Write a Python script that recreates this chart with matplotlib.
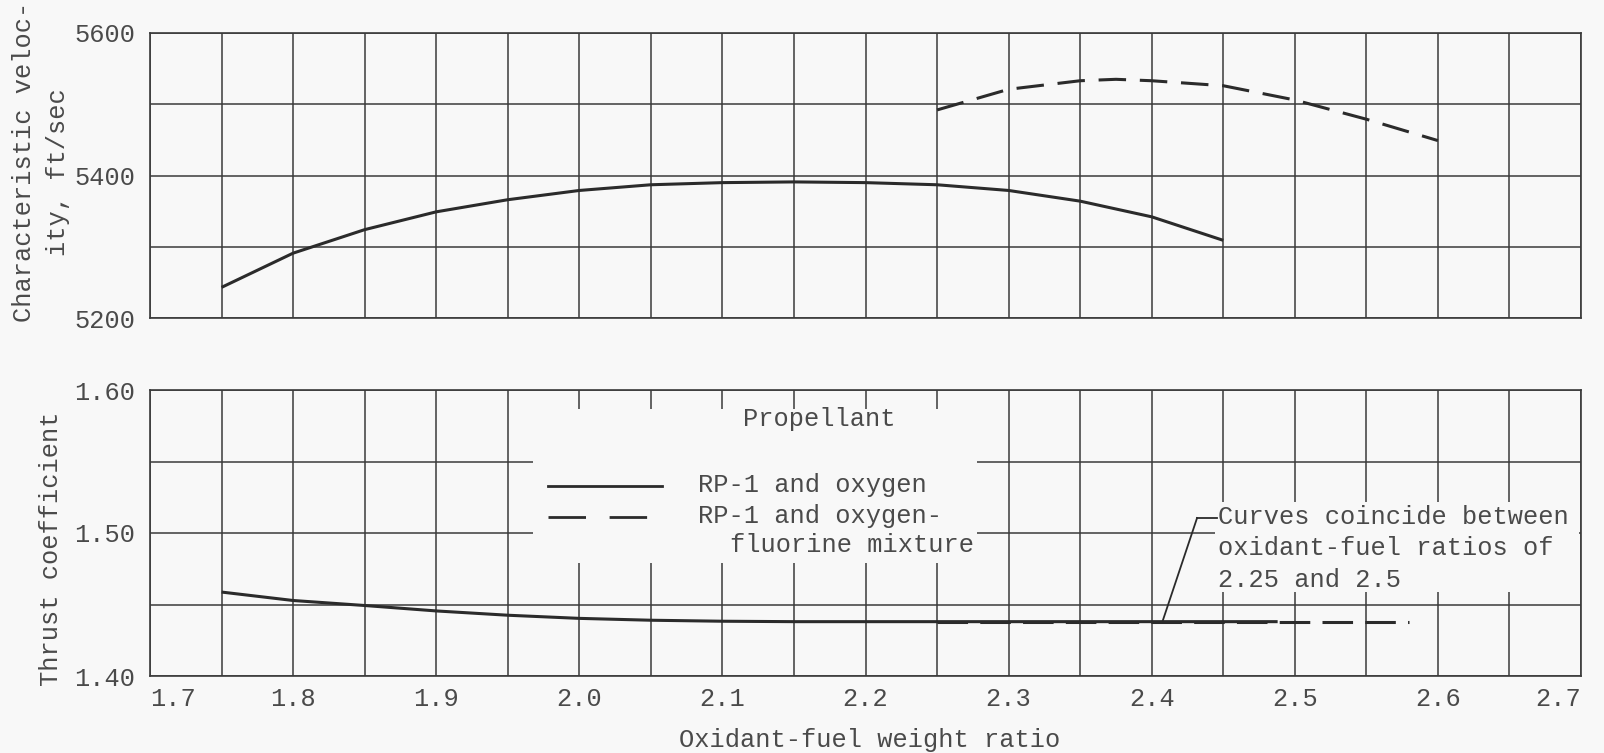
import matplotlib
matplotlib.use("Agg")
import matplotlib.pyplot as plt
from matplotlib.patches import Rectangle
from matplotlib.lines import Line2D
import numpy as np

# ---------------- data ----------------
x_top_solid = [1.75, 1.80, 1.85, 1.90, 1.95, 2.00, 2.05, 2.10, 2.15, 2.20,
               2.25, 2.30, 2.35, 2.40, 2.45]
cstar_solid = [5243, 5291, 5324, 5349, 5366, 5379, 5387, 5390, 5391, 5390,
               5387, 5379, 5364, 5342, 5309]

x_top_dash = [2.25, 2.30, 2.35, 2.375, 2.40, 2.45, 2.50, 2.55, 2.60]
cstar_dash = [5492, 5521, 5533, 5535, 5533, 5526, 5506, 5479, 5449]

x_bot_solid = [1.75, 1.80, 1.85, 1.90, 1.95, 2.00, 2.05, 2.10, 2.15, 2.20,
               2.25, 2.30, 2.35, 2.40, 2.45, 2.488]
cf_solid = [1.4587, 1.4528, 1.4493, 1.4455, 1.4425, 1.4403, 1.4390, 1.4383,
            1.4380, 1.4380, 1.4380, 1.4380, 1.4380, 1.4380, 1.4380, 1.4380]

x_bot_dash = [2.25, 2.30, 2.35, 2.40, 2.45, 2.50, 2.55, 2.58]
cf_dash = [1.4380, 1.4380, 1.4380, 1.4380, 1.4380, 1.4380, 1.4380, 1.4380]

x_ticks = [1.7, 1.8, 1.9, 2.0, 2.1, 2.2, 2.3, 2.4, 2.5, 2.6, 2.7]
x_tick_labels = ["1.7", "1.8", "1.9", "2.0", "2.1", "2.2", "2.3", "2.4", "2.5", "2.6", "2.7"]
top_yticks = [5200, 5400, 5600]
top_yminor = [5300, 5500]
bot_yticks = [1.40, 1.50, 1.60]
bot_yticklabels = ["1.40", "1.50", "1.60"]
bot_yminor = [1.45, 1.55]

legend_title = "Propellant"
series_labels = ["RP-1 and oxygen", "RP-1 and oxygen-", "fluorine mixture"]
note_lines = ["Curves coincide between", "oxidant-fuel ratios of", "2.25 and 2.5"]
note_point = (2.4075, 1.438)

# ---------------- style ----------------
BG = "#f8f8f8"
INK = "#2b2b2b"
TXT = "#4a4a4a"
GRID = "#3a3a3a"
FONT = ["Liberation Mono", "DejaVu Sans Mono"]
FS = 18.3
plt.rcParams["font.family"] = FONT
plt.rcParams["font.size"] = FS

fig = plt.figure(figsize=(16.04, 7.53), dpi=100, facecolor=BG)
ax1 = fig.add_axes([150/1604, 1 - 318/753, 1431/1604, 285/753])
ax2 = fig.add_axes([150/1604, 1 - 676/753, 1431/1604, 286/753])

for ax in (ax1, ax2):
    ax.set_facecolor(BG)
    ax.set_xlim(1.7, 2.7)
    ax.set_xticks(x_ticks)
    ax.set_xticks(np.arange(1.75, 2.7, 0.1), minor=True)
    ax.grid(True, which="both", color=GRID, linewidth=1.1)
    ax.set_axisbelow(True)
    ax.tick_params(which="both", length=0, colors=TXT, labelsize=FS)
    for s in ax.spines.values():
        s.set_color(GRID)
        s.set_linewidth(1.2)

# top panel
ax1.set_ylim(5200, 5600)
ax1.set_yticks(top_yticks)
ax1.set_yticks(top_yminor, minor=True)
ax1.set_xticklabels([])
ax1.tick_params(axis="y", pad=10.5)
ax1.plot(x_top_solid, cstar_solid, color=INK, lw=2.2, solid_capstyle="butt",
         solid_joinstyle="round", zorder=3)
ax1.plot(x_top_dash, cstar_dash, color=INK, lw=2.2, dashes=(9, 4.5), zorder=3)

# bottom panel
ax2.set_ylim(1.40, 1.60)
ax2.set_yticks(bot_yticks)
ax2.set_yticklabels(bot_yticklabels)
ax2.set_yticks(bot_yminor, minor=True)
ax2.set_xticklabels(x_tick_labels)
ax2.tick_params(axis="y", pad=10.5)
ax2.tick_params(axis="x", pad=8)
labs = ax2.get_xticklabels()
labs[0].set_ha("left")
labs[-1].set_ha("right")
ax2.plot(x_bot_solid, cf_solid, color=INK, lw=2.2, solid_capstyle="butt",
         solid_joinstyle="round", zorder=3)
ax2.plot(x_bot_dash, cf_dash, color=INK, lw=2.2, dashes=(10, 4), zorder=3)

# legend block (drawn manually, axes fraction)
T = ax2.transAxes
ax2.add_patch(Rectangle((0.2676, 0.395), 0.578 - 0.2676, 0.9336 - 0.395,
                        transform=T, facecolor=BG, edgecolor="none", zorder=1.5))
ax2.text(0.4675, 0.898, legend_title, transform=T, ha="center", va="center",
         color=TXT, fontsize=FS, zorder=4)
ax2.add_line(Line2D([0.278, 0.358], [0.664, 0.664], transform=T, color=INK,
                    lw=2.0, zorder=4))
ax2.add_line(Line2D([0.278, 0.358], [0.556, 0.556], transform=T, color=INK,
                    lw=2.0, dashes=(13.5, 8.5), zorder=4))
ax2.text(0.383, 0.668, series_labels[0], transform=T, ha="left", va="center",
         color=TXT, fontsize=FS, zorder=4)
ax2.text(0.383, 0.559, series_labels[1], transform=T, ha="left", va="center",
         color=TXT, fontsize=FS, zorder=4)
ax2.text(0.4053, 0.458, series_labels[2], transform=T, ha="left", va="center",
         color=TXT, fontsize=FS, zorder=4)

# annotation block
ax2.add_patch(Rectangle((0.7442, 0.2937), 0.9985 - 0.7442, 0.6084 - 0.2937,
                        transform=T, facecolor=BG, edgecolor="none", zorder=1.5))
for txt, yy in zip(note_lines, [0.556, 0.4476, 0.3357]):
    ax2.text(0.7463, yy, txt, transform=T, ha="left", va="center",
             color=TXT, fontsize=FS, zorder=4)
elbow = ax2.transData.inverted().transform(T.transform((0.7317, 0.5524)))
ax2.plot([note_point[0], elbow[0]], [note_point[1], elbow[1]], color=INK, lw=1.3, zorder=4)
ax2.add_line(Line2D([0.7317, 0.7456], [0.5524, 0.5524], transform=T, color=INK,
                    lw=1.3, zorder=4))

# axis labels
fig.text(24/1604, 1 - 162/753, "Characteristic veloc-", rotation=90,
         ha="center", va="center", color=TXT, fontsize=FS)
fig.text(58/1604, 1 - 172/753, "ity, ft/sec", rotation=90,
         ha="center", va="center", color=TXT, fontsize=FS)
fig.text(51/1604, 1 - 549/753, "Thrust coefficient", rotation=90,
         ha="center", va="center", color=TXT, fontsize=FS)
fig.text(870/1604, 1 - 740/753, "Oxidant-fuel weight ratio",
         ha="center", va="center", color=TXT, fontsize=FS)

fig.savefig("out.png", dpi=100, facecolor=BG)
